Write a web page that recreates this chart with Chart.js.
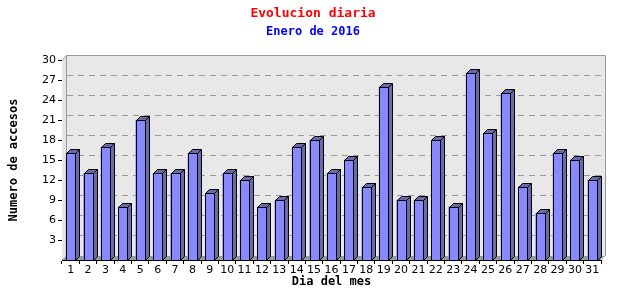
<!DOCTYPE html>
<html>
<head>
<meta charset="utf-8">
<script src="https://cdn.jsdelivr.net/npm/chart.js@4.4.1/dist/chart.umd.min.js"></script>
<style>
  html, body { margin: 0; padding: 0; background: #fff; }
  #wrap { width: 640px; height: 300px; }
</style>
</head>
<body>
<div id="wrap"><canvas id="chart" width="640" height="300"></canvas></div>
<script>
const days = ['1','2','3','4','5','6','7','8','9','10','11','12','13','14','15','16',
  '17','18','19','20','21','22','23','24','25','26','27','28','29','30','31'];
const visits = [16, 13, 17, 8, 21, 13, 13, 16, 10, 13, 12, 8, 9, 17, 18, 13,
  15, 11, 26, 9, 9, 18, 8, 28, 19, 25, 11, 7, 16, 15, 12];
const yTicks = [3, 6, 9, 12, 15, 18, 21, 24, 27, 30];

const DEPTH = 4;
const mono = 'DejaVu Sans Mono';

// back wall, floor and dashed grid behind the bars, 3d faces on top
const wallPlugin = {
  id: 'wall',
  beforeDatasetsDraw(chart) {
    const { ctx, chartArea: a, scales } = chart;
    const d = DEPTH;
    ctx.save();
    // left wall
    ctx.fillStyle = '#e4e4e4';
    ctx.beginPath();
    ctx.moveTo(a.left, a.top);
    ctx.lineTo(a.left + d, a.top - d - 1);
    ctx.lineTo(a.left + d, a.bottom - d);
    ctx.lineTo(a.left, a.bottom);
    ctx.closePath();
    ctx.fill();
    // back wall
    ctx.fillStyle = '#e8e8e8';
    ctx.fillRect(a.left + d, a.top - d - 1, a.right - a.left, a.bottom - a.top + 1);
    ctx.strokeStyle = '#999';
    ctx.lineWidth = 1;
    ctx.beginPath();
    ctx.moveTo(a.left + d + 0.5, a.bottom - d);
    ctx.lineTo(a.left + d + 0.5, a.top - d - 0.5);
    ctx.lineTo(a.right + d + 0.5, a.top - d - 0.5);
    ctx.lineTo(a.right + d + 0.5, a.bottom - d);
    ctx.moveTo(a.left + 0.5, a.top);
    ctx.lineTo(a.left + d + 0.5, a.top - d - 0.5);
    ctx.stroke();
    // grid lines on the back wall
    ctx.setLineDash([6, 5]);
    yTicks.slice(0, -1).forEach((v) => {
      const y = Math.round(scales.y.getPixelForValue(v) - d - 1) + 0.5;
      ctx.beginPath();
      ctx.moveTo(a.left + d + 1, y);
      ctx.lineTo(a.right + d, y);
      ctx.stroke();
    });
    ctx.setLineDash([]);
    // floor
    ctx.fillStyle = '#999';
    ctx.beginPath();
    ctx.moveTo(a.left, a.bottom);
    ctx.lineTo(a.left + d, a.bottom - d);
    ctx.lineTo(a.right + d, a.bottom - d);
    ctx.lineTo(a.right, a.bottom);
    ctx.closePath();
    ctx.fill();
    ctx.restore();
  },
  afterDatasetsDraw(chart) {
    const { ctx } = chart;
    const d = DEPTH;
    ctx.save();
    ctx.strokeStyle = '#000';
    ctx.lineWidth = 1;
    ctx.fillStyle = '#6a6aa8';
    chart.getDatasetMeta(0).data.forEach((bar) => {
      const L = Math.round(bar.x - bar.width / 2) + 0.5;
      const R = Math.round(bar.x + bar.width / 2) + 0.5;
      const T = Math.round(bar.y) + 0.5;
      const B = Math.round(bar.base) + 0.5;
      // top face
      ctx.beginPath();
      ctx.moveTo(L, T);
      ctx.lineTo(L + d, T - d);
      ctx.lineTo(R + d, T - d);
      ctx.lineTo(R, T);
      ctx.closePath();
      ctx.fill();
      ctx.stroke();
      // side face
      ctx.beginPath();
      ctx.moveTo(R, T);
      ctx.lineTo(R + d, T - d);
      ctx.lineTo(R + d, B - d);
      ctx.lineTo(R, B);
      ctx.closePath();
      ctx.fill();
      ctx.stroke();
      // front face outline
      ctx.strokeRect(L, T, R - L, B - T);
    });
    ctx.restore();
  }
};

Chart.defaults.font.family = 'DejaVu Sans';
Chart.defaults.font.size = 11;
Chart.defaults.color = '#000';

new Chart(document.getElementById('chart'), {
  type: 'bar',
  data: {
    labels: days,
    datasets: [{
      data: visits,
      backgroundColor: '#8888ff',
      borderWidth: 0,
      barThickness: 9
    }]
  },
  plugins: [wallPlugin],
  options: {
    responsive: false,
    animation: false,
    layout: { padding: { top: 0, right: 14, left: 0, bottom: 0 } },
    plugins: {
      legend: { display: false },
      tooltip: { enabled: false },
      title: {
        display: true,
        text: 'Evolucion diaria',
        color: '#ff0000',
        font: { family: mono, size: 13, weight: 'bold' },
        padding: { top: 6, bottom: 3 }
      },
      subtitle: {
        display: true,
        text: 'Enero de 2016',
        color: '#0000ff',
        font: { family: mono, size: 12, weight: 'bold' },
        padding: { top: 0, bottom: 21 }
      }
    },
    scales: {
      x: {
        grid: { display: true, drawOnChartArea: false, offset: true, color: '#000', tickLength: 4 },
        border: { display: true, color: '#000' },
        ticks: { maxRotation: 0, autoSkip: false, padding: 0, font: { size: 11 } },
        title: {
          display: true,
          text: 'Dia del mes',
          font: { family: mono, size: 12, weight: 'bold' },
          padding: { top: 0, bottom: 11 }
        },
        afterFit(scale) { scale.height = 40; }
      },
      y: {
        min: 0,
        max: 30,
        afterBuildTicks(scale) {
          scale.ticks = yTicks.map((v) => ({ value: v }));
        },
        grid: { display: true, drawOnChartArea: false, color: '#000', tickLength: 4 },
        border: { display: true, color: '#000' },
        ticks: { padding: 2, font: { size: 11 } },
        title: {
          display: true,
          text: 'Numero de accesos',
          font: { family: mono, size: 12, weight: 'bold' },
          padding: { top: 7, bottom: 0 }
        },
        afterFit(scale) { scale.width = 62; }
      },
      // empty right-hand margin so the titles centre like the original
      yRight: {
        position: 'right',
        min: 0,
        max: 30,
        grid: { display: false },
        border: { display: false },
        ticks: { display: false },
        afterFit(scale) { scale.width = 25; }
      }
    }
  }
});
</script>
</body>
</html>
